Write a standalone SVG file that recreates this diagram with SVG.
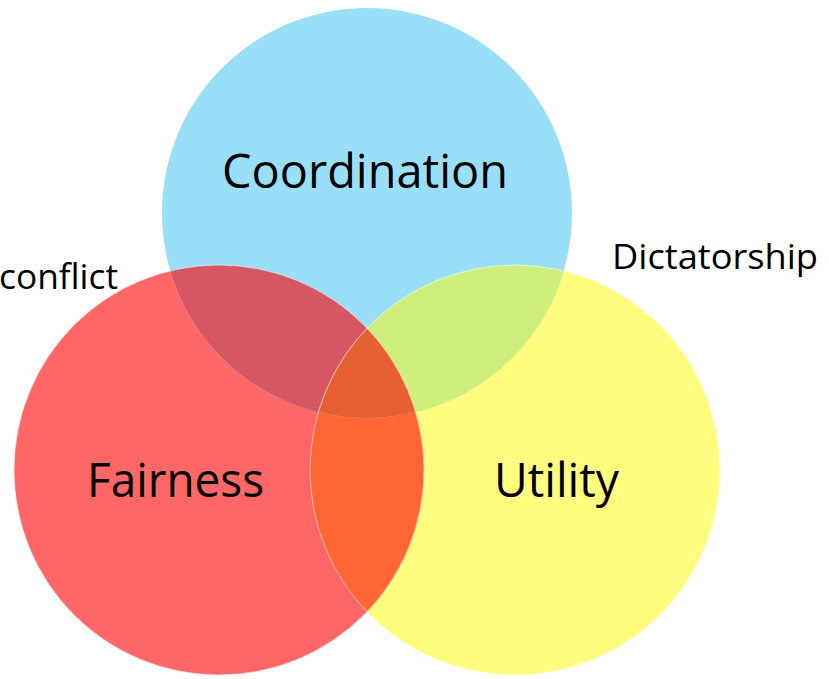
<svg xmlns="http://www.w3.org/2000/svg" width="829" height="679" viewBox="0 0 829 679">
  <style>
    .label { font-family: "Open Sans", "Noto Sans", "Liberation Sans", sans-serif; fill: #000; }
    .big { font-size: 48px; }
    .side { font-size: 35px; }
    .rim { fill: none; stroke: #fff; stroke-opacity: 0.55; stroke-width: 1; }
  </style>
  <defs>
    <circle id="shapeC" cx="367" cy="213" r="205"/>
    <circle id="shapeF" cx="219" cy="470" r="205"/>
    <circle id="shapeU" cx="515" cy="470" r="205"/>
    <clipPath id="clipF"><use href="#shapeF"/></clipPath>
    <clipPath id="clipU"><use href="#shapeU"/></clipPath>
  </defs>

  <rect width="829" height="679" fill="#fff"/>

  <!-- base sets -->
  <g id="utility">
    <use href="#shapeU" fill="#FFFC7E"/>
  </g>
  <g id="fairness">
    <use href="#shapeF" fill="#FF6666"/>
  </g>
  <g id="coordination">
    <use href="#shapeC" fill="#9ADFF8"/>
  </g>

  <!-- overlap regions -->
  <g id="overlaps">
    <use href="#shapeF" fill="#FF6633" clip-path="url(#clipU)"/>
    <use href="#shapeC" fill="#D55763" clip-path="url(#clipF)"/>
    <use href="#shapeC" fill="#CFEF7C" clip-path="url(#clipU)"/>
    <g clip-path="url(#clipF)">
      <use href="#shapeC" fill="#E65F33" clip-path="url(#clipU)"/>
    </g>
  </g>

  <!-- faint outlines on the lower circles -->
  <use href="#shapeF" class="rim"/>
  <use href="#shapeU" class="rim"/>

  <!-- labels -->
  <g id="labels">
    <text class="label big" x="222" y="188" textLength="286" lengthAdjust="spacingAndGlyphs">Coordination</text>
    <text class="label big" x="87" y="497" textLength="177" lengthAdjust="spacingAndGlyphs">Fairness</text>
    <text class="label big" x="494" y="497" textLength="125" lengthAdjust="spacingAndGlyphs">Utility</text>
    <text class="label side" x="612" y="269" textLength="206" lengthAdjust="spacingAndGlyphs">Dictatorship</text>
    <text class="label side" x="-1" y="289" textLength="119" lengthAdjust="spacingAndGlyphs">conflict</text>
  </g>
</svg>
